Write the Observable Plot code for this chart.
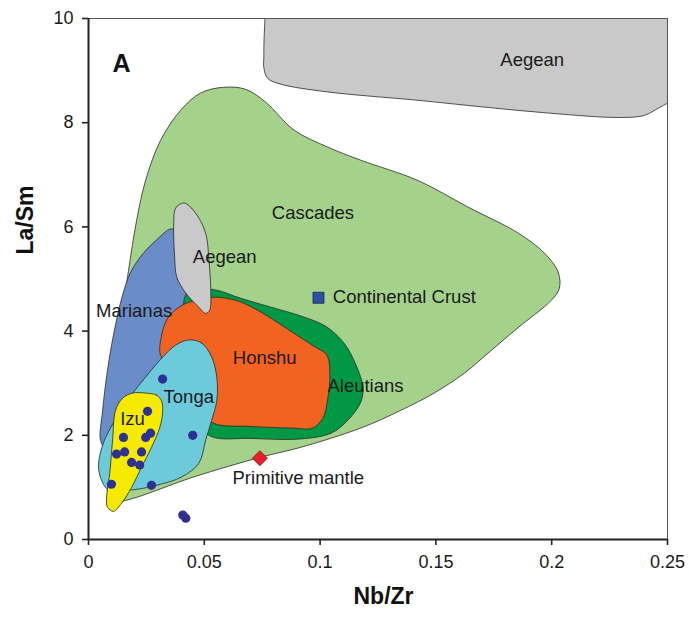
<!DOCTYPE html>
<html><head><meta charset="utf-8">
<script src="https://cdn.jsdelivr.net/npm/d3@7"></script>
<script src="https://cdn.jsdelivr.net/npm/@observablehq/plot@0.6"></script>
<style>body{margin:0;background:#fff;font-family:"Liberation Sans",Arial,sans-serif}</style>
</head><body><div id="chart"></div>
<script>
// Field outlines (Nb/Zr, La/Sm)
const aegeanBandX = [0.1200, 0.0766, 0.0763, 0.0758, 0.0757, 0.0757, 0.0774, 0.0830, 0.1034, 0.1423, 0.1708, 0.1998, 0.2288, 0.2400, 0.2461, 0.2504, 0.2582, 0.2600, 0.2600, 0.2000];
const aegeanBandY = [10.6, 10.6, 10.1, 9.6, 9.25, 9.06, 8.85, 8.74, 8.59, 8.43, 8.30, 8.18, 8.10, 8.14, 8.28, 8.38, 8.51, 9.0, 10.6, 10.6];

const cascadesX = [0.0095, 0.0108, 0.0138, 0.0173, 0.0208, 0.0247, 0.0311, 0.0398, 0.0484, 0.0584, 0.0679, 0.0766, 0.0887, 0.1034, 0.1176, 0.1423, 0.1639, 0.1856, 0.1968, 0.2028, 0.2033, 0.1998, 0.1856, 0.1739, 0.1622, 0.1492, 0.1349, 0.1176, 0.0917, 0.0744, 0.0454, 0.0169];
const cascadesY = [0.72, 2.29, 4.02, 5.17, 6.13, 6.90, 7.66, 8.24, 8.57, 8.68, 8.64, 8.39, 7.86, 7.53, 7.28, 6.89, 6.38, 5.88, 5.50, 5.13, 4.82, 4.59, 4.07, 3.63, 3.19, 2.81, 2.48, 2.14, 1.77, 1.58, 1.20, 0.76];

const marianasX = [0.0355, 0.0389, 0.0407, 0.0415, 0.0420, 0.0376, 0.0311, 0.0225, 0.0138, 0.0074, 0.0052, 0.0061, 0.0082, 0.0112, 0.0147, 0.0182, 0.0234, 0.0294];
const marianasY = [5.96, 5.90, 5.55, 4.97, 4.40, 4.02, 3.44, 2.67, 1.90, 1.75, 1.90, 2.48, 3.25, 4.02, 4.69, 5.13, 5.48, 5.75];

const aleutiansX = [0.0420, 0.0484, 0.0549, 0.0657, 0.0787, 0.0917, 0.1025, 0.1103, 0.1155, 0.1185, 0.1176, 0.1120, 0.1047, 0.0917, 0.0701, 0.0528, 0.0463, 0.0441, 0.0420];
const aleutiansY = [4.69, 4.79, 4.79, 4.63, 4.46, 4.29, 4.09, 3.77, 3.35, 2.92, 2.64, 2.29, 2.04, 1.93, 1.94, 1.98, 2.29, 3.06, 4.02];

const honshuX = [0.0311, 0.0316, 0.0342, 0.0398, 0.0476, 0.0549, 0.0636, 0.0723, 0.0800, 0.0887, 0.0973, 0.1029, 0.1042, 0.1034, 0.1012, 0.0969, 0.0874, 0.0701, 0.0541, 0.0484, 0.0420, 0.0355];
const honshuY = [3.54, 3.92, 4.25, 4.48, 4.61, 4.65, 4.59, 4.42, 4.21, 3.96, 3.71, 3.54, 3.15, 2.73, 2.33, 2.14, 2.14, 2.17, 2.23, 2.48, 3.06, 3.35];

const aegeanSmallX = [0.0411, 0.0445, 0.0489, 0.0510, 0.0519, 0.0528, 0.0523, 0.0506, 0.0476, 0.0420, 0.0381, 0.0372, 0.0368, 0.0376];
const aegeanSmallY = [6.46, 6.36, 6.07, 5.80, 5.42, 4.78, 4.40, 4.34, 4.46, 4.73, 5.04, 5.42, 6.07, 6.36];

const tongaX = [0.0433, 0.0489, 0.0532, 0.0554, 0.0554, 0.0532, 0.0506, 0.0476, 0.0402, 0.0311, 0.0186, 0.0087, 0.0056, 0.0043, 0.0061, 0.0095, 0.0160, 0.0247, 0.0320, 0.0376];
const tongaY = [3.83, 3.77, 3.50, 3.11, 2.67, 2.29, 1.91, 1.46, 1.20, 1.06, 0.95, 0.95, 1.14, 1.43, 1.81, 2.14, 2.62, 3.12, 3.50, 3.73];

const izuX = [0.0247, 0.0294, 0.0316, 0.0320, 0.0307, 0.0272, 0.0229, 0.0186, 0.0143, 0.0108, 0.0082, 0.0078, 0.0091, 0.0104, 0.0117, 0.0147, 0.0190];
const izuY = [2.81, 2.77, 2.65, 2.44, 2.14, 1.77, 1.39, 1.00, 0.70, 0.54, 0.62, 0.80, 1.24, 1.91, 2.48, 2.71, 2.81];

// Samples
const sampleX = [0.0320, 0.0255, 0.0151, 0.0247, 0.0268, 0.0450, 0.0121, 0.0156, 0.0229, 0.0186, 0.0221, 0.0099, 0.0272, 0.0407, 0.0420];
const sampleY = [3.08, 2.46, 1.96, 1.96, 2.04, 2.00, 1.64, 1.68, 1.68, 1.48, 1.43, 1.06, 1.04, 0.47, 0.41];

// Reference compositions
const crustX = [0.0993], crustY = [4.64];
const mantleX = [0.0740], mantleY = [1.56];

// Labels
const labelText = ["Aegean", "Cascades", "Aegean", "Marianas", "Honshu", "Aleutians", "Tonga", "Izu", "Primitive mantle"];
const labelX = [0.1916, 0.0969, 0.0588, 0.0197, 0.0761, 0.1196, 0.0433, 0.0190, 0.0906];
const labelY = [9.20, 6.26, 5.42, 4.39, 3.48, 2.94, 2.73, 2.31, 1.18];
const crustLabel = ["Continental Crust"], crustLabelX = [0.1055], crustLabelY = [4.65];
const panelLabel = ["A"], panelX = [0.0104], panelY = [9.12];

const xTicks = [0, 0.05, 0.1, 0.15, 0.2, 0.25];
const xTickLabels = ["0", "0.05", "0.1", "0.15", "0.2", "0.25"];
const yTicks = [0, 2, 4, 6, 8, 10];

const pts = (xs, ys) => xs.map((x, i) => ({x, y: ys[i]}));
const shape = (xs, ys, fill, extra = {}) => Plot.line(pts(xs, ys), {
  x: "x", y: "y", curve: "catmull-rom-closed", fill, stroke: "#2a2a2a", strokeWidth: 0.8, ...extra
});

const chart = Plot.plot({
  width: 689, height: 619,
  marginLeft: 88, marginRight: 22, marginTop: 18, marginBottom: 80,
  style: {fontFamily: "'Liberation Sans', Arial, sans-serif", color: "#1a1a1a", background: "#fff"},
  x: {domain: [0, 0.25], ticks: xTicks, tickFormat: (d, i) => xTickLabels[i]},
  y: {domain: [0, 10], ticks: yTicks},
  marks: [
    shape(aegeanBandX, aegeanBandY, "#c9c9c9", {clip: true}),
    shape(cascadesX, cascadesY, "#a4d28b"),
    shape(marianasX, marianasY, "#6a8cc8"),
    shape(aleutiansX, aleutiansY, "#009845"),
    shape(honshuX, honshuY, "#f26322"),
    shape(aegeanSmallX, aegeanSmallY, "#c9c9c9"),
    shape(tongaX, tongaY, "#6ccadb"),
    shape(izuX, izuY, "#f6ea00"),
    Plot.frame({stroke: "#555", strokeWidth: 1}),
    Plot.ruleX([0], {stroke: "#222", strokeWidth: 2}),
    Plot.ruleY([0], {stroke: "#222", strokeWidth: 2}),
    Plot.axisX({ticks: xTicks, tickFormat: (d, i) => xTickLabels[i], tickSize: 6, tickPadding: 10, fontSize: 18, strokeWidth: 1.6, stroke: "#222", label: null}),
    Plot.axisY({ticks: yTicks, tickSize: 6, tickPadding: 9, fontSize: 18, strokeWidth: 1.6, stroke: "#222", label: null}),
    Plot.dot(pts(sampleX, sampleY), {x: "x", y: "y", r: 4.6, fill: "#2e3192"}),
    Plot.dot(pts(crustX, crustY), {x: "x", y: "y", symbol: "square", r: 6.2, fill: "#2d4fa1", stroke: "#1a2550", strokeWidth: 0.8}),
    Plot.dot(pts(mantleX, mantleY), {x: "x", y: "y", symbol: "square", rotate: 45, r: 6.0, fill: "#e6202a", stroke: "#9a1010", strokeWidth: 0.8}),
    Plot.text(labelText.map((t, i) => ({t, x: labelX[i], y: labelY[i]})), {x: "x", y: "y", text: "t", fontSize: 18.5, fill: "#1a1a1a"}),
    Plot.text(crustLabel.map((t, i) => ({t, x: crustLabelX[i], y: crustLabelY[i]})), {x: "x", y: "y", text: "t", fontSize: 18.5, textAnchor: "start", fill: "#1a1a1a"}),
    Plot.text(panelLabel.map((t, i) => ({t, x: panelX[i], y: panelY[i]})), {x: "x", y: "y", text: "t", fontSize: 25, fontWeight: "bold", textAnchor: "start", fill: "#111"}),
    Plot.text(["Nb/Zr"], {frameAnchor: "bottom", dx: 5.5, dy: 64, fontSize: 23, fontWeight: "bold", fill: "#111"}),
    Plot.text(["La/Sm"], {frameAnchor: "left", dx: -63, dy: -24.5, rotate: -90, fontSize: 23, fontWeight: "bold", fill: "#111"})
  ]
});
document.getElementById("chart").appendChild(chart);
</script>
</body></html>
